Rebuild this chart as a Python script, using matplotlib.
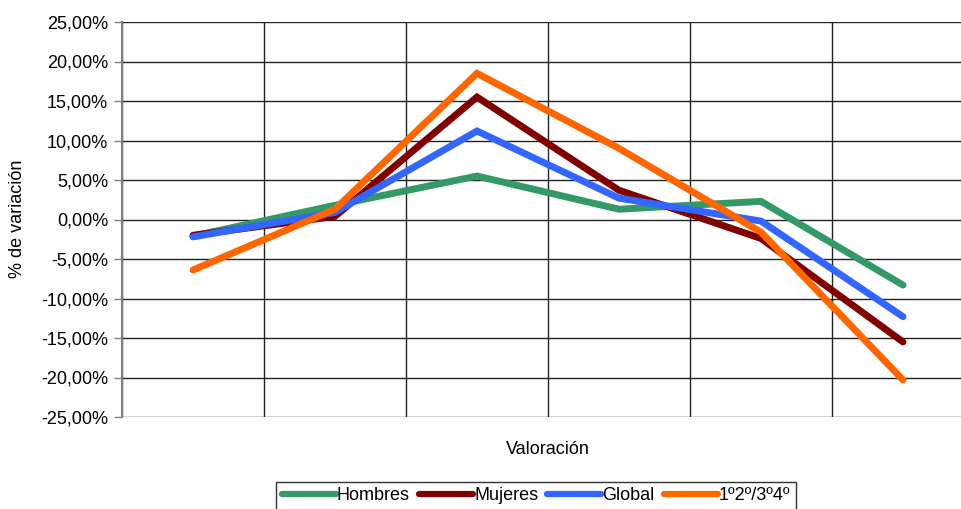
import matplotlib.pyplot as plt
from matplotlib.ticker import FuncFormatter, MultipleLocator

plt.rcParams['font.family'] = ['Liberation Sans', 'DejaVu Sans']

# six valuation categories, % change per group
categorias = [1, 2, 3, 4, 5, 6]
hombres = [-2.1, 1.8, 5.5, 1.3, 2.3, -8.3]
mujeres = [-2.0, 0.4, 15.5, 3.7, -2.4, -15.5]
global_ = [-2.2, 0.9, 11.2, 2.7, -0.2, -12.3]
grupos = [-6.4, 1.3, 18.5, 9.0, -1.6, -20.3]

series = [
    ('Hombres', hombres, '#339966'),
    ('Mujeres', mujeres, '#800000'),
    ('Global', global_, '#3366FF'),
    ('1º2º/3º4º', grupos, '#FF6600'),
]

fs = 13
fig = plt.figure(figsize=(9.61, 5.09), dpi=100)
# the plot area runs past the right edge of the figure on purpose
ax = fig.add_axes([122 / 961, 1 - 417 / 509, 852 / 961, 395 / 509])

x = list(range(len(categorias)))
for nombre, valores, color in series:
    ax.plot(x, valores, color=color, linewidth=5, label=nombre,
            solid_capstyle='round', solid_joinstyle='miter', zorder=3)

ax.set_xlim(-0.5, len(categorias) - 0.5)
ax.set_ylim(-25, 25)
ax.yaxis.set_major_locator(MultipleLocator(5))
ax.yaxis.set_major_formatter(FuncFormatter(lambda v, p: f'{v:.2f}%'.replace('.', ',')))
ax.set_xticks([i - 0.5 for i in range(len(categorias) + 1)])
ax.set_xticklabels([])
ax.tick_params(axis='x', length=0)
ax.tick_params(axis='y', length=6, width=1, color='#808080', labelsize=fs, pad=4)
ax.grid(True, color='#222222', linewidth=1)
ax.set_axisbelow(True)
for s in ['top', 'right', 'bottom']:
    ax.spines[s].set_visible(False)
ax.spines['left'].set_color('#808080')
ax.spines['left'].set_linewidth(1.5)

fig.text(18 / 961, 1 - 219 / 509, '% de variación', fontsize=fs, rotation=90,
         ha='center', va='center')
fig.text(548 / 961, 1 - 450 / 509, 'Valoración', fontsize=fs, ha='center', va='center')

leg = fig.legend(loc='upper center', bbox_to_anchor=(536 / 961, 1 - 482 / 509), ncol=4,
                 fontsize=fs, frameon=True, fancybox=False, edgecolor='black',
                 handlelength=3.0, handletextpad=0.05, columnspacing=0.5,
                 borderpad=0.3, borderaxespad=0)
leg.get_frame().set_linewidth(1)
for h in leg.get_lines():
    h.set_linewidth(4.5)
    h.set_solid_capstyle('round')

fig.savefig('out.png', dpi=100)
